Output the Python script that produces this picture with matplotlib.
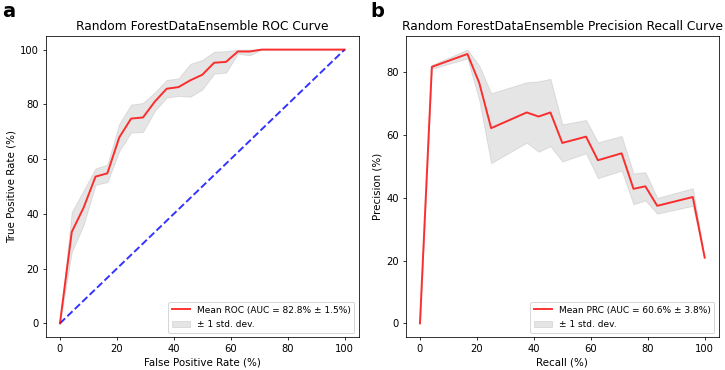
import numpy as np
from matplotlib import pyplot as plt

# ROC: eje x en pasos de 1/24
fpr = np.linspace(0, 100, 25)
tpr_mean = [0, 33.4, 42.3, 53.6, 54.8, 67.9, 74.8, 75.2, 81.0, 85.7, 86.3, 88.8, 90.8,
            95.2, 95.5, 99.3, 99.3, 100, 100, 100, 100, 100, 100, 100, 100]
tpr_std = [0, 7.3, 6.3, 3.0, 3.2, 5.0, 5.1, 5.3, 3.4, 3.2, 3.2, 6.0, 5.4,
           4.0, 3.9, 0.8, 1.4, 0, 0, 0, 0, 0, 0, 0, 0]
roc_label = 'Mean ROC (AUC = 82.8% \u00b1 1.5%)'

# Precision-Recall
recall = [0, 4.17, 16.67, 20.83, 25, 37.5, 41.67, 45.83, 50, 58.33, 62.5, 70.83,
          75, 79.17, 83.33, 95.83, 100]
prec_mean = [0, 81.6, 85.7, 76.5, 62.1, 67.1, 65.8, 67.1, 57.4, 59.4, 51.9, 54.1,
             42.8, 43.6, 37.4, 40.2, 20.9]
prec_std = [0, 0.6, 1.4, 5.5, 11.1, 9.6, 11.2, 10.7, 5.9, 5.3, 5.7, 5.5,
            4.9, 4.5, 2.5, 2.8, 0]
prc_label = 'Mean PRC (AUC = 60.6% \u00b1 3.8%)'
std_label = '\u00b1 1 std. dev.'

fig = plt.figure(figsize=(725 / 70, 370 / 70), dpi=70)
ax1 = fig.add_axes([0.063, 0.089, 0.432, 0.814])
ax2 = fig.add_axes([0.5596, 0.089, 0.432, 0.814])

# Curva ROC
m = np.array(tpr_mean)
s = np.array(tpr_std)
ax1.plot([0, 100], [0, 100], linestyle='--', lw=2, color='b', alpha=.8)
ax1.plot(fpr, m, color='r', lw=2, alpha=.8, label=roc_label)
ax1.fill_between(fpr, np.minimum(m + s, 100), np.maximum(m - s, 0),
                 color='grey', alpha=.2, label=std_label)
ax1.set_title('Random ForestDataEnsemble ROC Curve', fontsize=12.6)
ax1.set_xlabel('False Positive Rate (%)', fontsize=10.5)
ax1.set_ylabel('True Positive Rate (%)', fontsize=10.5)
ax1.tick_params(labelsize=10.3)
ax1.legend(loc='lower right', fontsize=9.3, labelspacing=0.6)

# Curva Precision-Recall
m2 = np.array(prec_mean)
s2 = np.array(prec_std)
ax2.plot(recall, m2, color='r', lw=2, alpha=.8, label=prc_label)
ax2.fill_between(recall, m2 + s2, m2 - s2, color='grey', alpha=.2,
                 label=std_label)
ax2.set_title('Random ForestDataEnsemble Precision Recall Curve', fontsize=12.6)
ax2.set_xlabel('Recall (%)', fontsize=10.5)
ax2.set_ylabel('Precision (%)', fontsize=10.5)
ax2.tick_params(labelsize=10.3)
ax2.legend(loc='lower right', fontsize=9.3, labelspacing=0.6)

fig.text(0.003, 0.995, 'a', fontsize=20, fontweight='bold', va='top', ha='left')
fig.text(0.511, 0.995, 'b', fontsize=20, fontweight='bold', va='top', ha='left')

fig.savefig('out.png', dpi=70)
